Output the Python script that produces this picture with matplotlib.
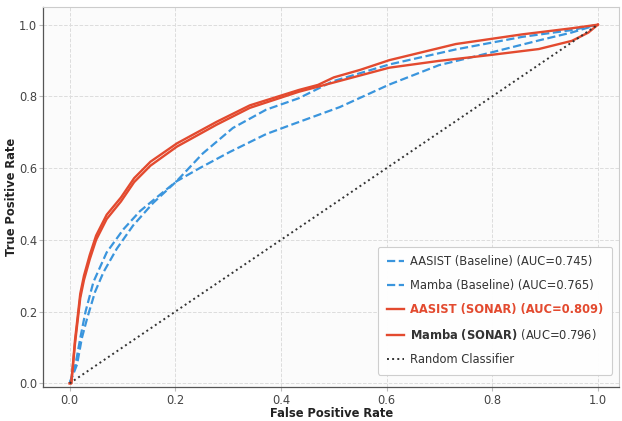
import matplotlib
matplotlib.use("Agg")
import matplotlib.pyplot as plt

# ---- data ----
aasist_base_fpr = [0, 0.011, 0.02, 0.03, 0.045, 0.07, 0.102, 0.133, 0.171, 0.202, 0.246, 0.303,
                   0.372, 0.416, 0.511, 0.605, 0.699, 0.794, 0.888, 0.95, 1.0]
aasist_base_tpr = [0, 0.053, 0.126, 0.2, 0.283, 0.365, 0.43, 0.48, 0.526, 0.563, 0.6, 0.645,
                   0.695, 0.719, 0.77, 0.833, 0.887, 0.921, 0.956, 0.978, 1.0]

mamba_base_fpr = [0, 0.014, 0.023, 0.033, 0.048, 0.064, 0.089, 0.12, 0.158, 0.202, 0.252, 0.309,
                  0.372, 0.434, 0.498, 0.605, 0.731, 0.857, 0.951, 1.0]
mamba_base_tpr = [0, 0.053, 0.126, 0.181, 0.255, 0.31, 0.375, 0.44, 0.503, 0.563, 0.641, 0.712,
                  0.763, 0.795, 0.842, 0.889, 0.931, 0.966, 0.985, 1.0]

aasist_sonar_fpr = [0, 0.003, 0.01, 0.02, 0.027, 0.038, 0.05, 0.07, 0.097, 0.122, 0.153, 0.203,
                    0.278, 0.341, 0.434, 0.47, 0.5, 0.55, 0.605, 0.731, 0.857, 0.951, 1.0]
aasist_sonar_tpr = [0, 0.0, 0.12, 0.25, 0.30, 0.358, 0.412, 0.47, 0.518, 0.572, 0.618, 0.669,
                    0.729, 0.775, 0.818, 0.832, 0.853, 0.874, 0.901, 0.946, 0.973, 0.99, 1.0]

mamba_sonar_fpr = [0, 0.003, 0.01, 0.02, 0.027, 0.038, 0.05, 0.07, 0.097, 0.122, 0.153, 0.203,
                   0.278, 0.341, 0.434, 0.498, 0.605, 0.699, 0.794, 0.888, 0.951, 0.982, 1.0]
mamba_sonar_tpr = [0, 0.0, 0.11, 0.238, 0.288, 0.346, 0.4, 0.458, 0.507, 0.561, 0.607, 0.66,
                   0.721, 0.768, 0.813, 0.838, 0.88, 0.899, 0.915, 0.932, 0.955, 0.978, 1.0]

random_x = [0, 1]
random_y = [0, 1]

labels = ["AASIST (Baseline) (AUC=0.745)",
          "Mamba (Baseline) (AUC=0.765)",
          "AASIST (SONAR) (AUC=0.809)",
          r"$\mathbf{Mamba\ (SONAR)}$ (AUC=0.796)",
          "Random Classifier"]

xticks = [0.0, 0.2, 0.4, 0.6, 0.8, 1.0]
yticks = [0.0, 0.2, 0.4, 0.6, 0.8, 1.0]

# ---- style ----
plt.rcParams['font.family'] = ['DejaVu Sans']
plt.rcParams['mathtext.fontset'] = 'dejavusans'

BLUE = "#3a95dd"
RED = "#e34a2f"
DARK = "#333333"

fig = plt.figure(figsize=(6.22, 4.21), dpi=100)
ax = fig.add_axes([0.0696, 0.081, 0.9256, 0.903])
ax.set_facecolor("#fbfbfb")

ax.plot(aasist_base_fpr, aasist_base_tpr, color=BLUE, lw=1.6, ls="--", label=labels[0])
ax.plot(mamba_base_fpr, mamba_base_tpr, color=BLUE, lw=1.6, ls="--", label=labels[1])
ax.plot(aasist_sonar_fpr, aasist_sonar_tpr, color=RED, lw=1.7, label=labels[2])
ax.plot(mamba_sonar_fpr, mamba_sonar_tpr, color=RED, lw=1.7, label=labels[3])
ax.plot(random_x, random_y, color=DARK, lw=1.4, ls=":", label=labels[4])

ax.set_xlim(-0.05, 1.04)
ax.set_ylim(-0.01, 1.05)
ax.set_xticks(xticks)
ax.set_yticks(yticks)
ax.tick_params(labelsize=8.3, colors="#bbbbbb", labelcolor="#444444", length=3, width=0.8)
ax.tick_params(axis="x", pad=2.0)
ax.tick_params(axis="y", pad=1.5)

ax.grid(True, ls="--", color="#dddddd", lw=0.7)
ax.set_axisbelow(True)

for side in ["top", "right"]:
    ax.spines[side].set_color("#cccccc")
    ax.spines[side].set_linewidth(0.8)
for side in ["left", "bottom"]:
    ax.spines[side].set_color("#555555")
    ax.spines[side].set_linewidth(0.9)

ax.set_xlabel("False Positive Rate", fontsize=8.3, fontweight="bold", color="#222222", labelpad=0)
ax.set_ylabel("True Positive Rate", fontsize=8.3, fontweight="bold", color="#222222", labelpad=0.5)

leg = ax.legend(loc="lower right", bbox_to_anchor=(0.988, 0.032), borderaxespad=0,
                fontsize=8.3, frameon=True, fancybox=True, framealpha=0.95,
                edgecolor="#cccccc", facecolor="white", labelspacing=0.95,
                borderpad=0.75, handlelength=1.5, handletextpad=0.55)
leg.get_frame().set_linewidth(0.8)
texts = leg.get_texts()
for t in texts:
    t.set_color(DARK)
texts[2].set_color(RED)
texts[2].set_fontweight("bold")

fig.savefig("out.png", dpi=100)
